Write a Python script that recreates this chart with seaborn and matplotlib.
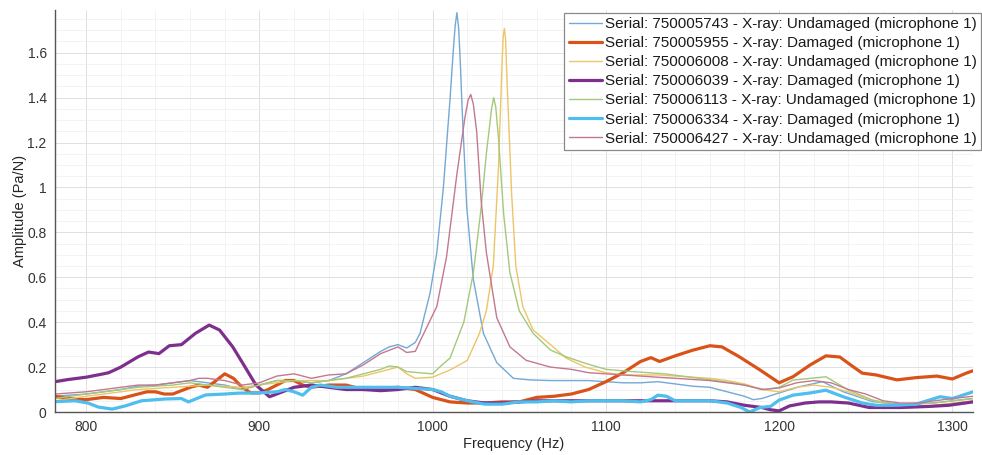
import numpy as np
import pandas as pd
import matplotlib
matplotlib.use("Agg")
import matplotlib.pyplot as plt
from matplotlib.ticker import MultipleLocator, FuncFormatter
import seaborn as sns

# ---------------- data ----------------
labels = [
    "Serial: 750005743 - X-ray: Undamaged (microphone 1)",
    "Serial: 750005955 - X-ray: Damaged (microphone 1)",
    "Serial: 750006008 - X-ray: Undamaged (microphone 1)",
    "Serial: 750006039 - X-ray: Damaged (microphone 1)",
    "Serial: 750006113 - X-ray: Undamaged (microphone 1)",
    "Serial: 750006334 - X-ray: Damaged (microphone 1)",
    "Serial: 750006427 - X-ray: Undamaged (microphone 1)",
]

f_5743 = [782, 790, 800, 810, 820, 830, 840, 850, 860, 870, 880, 890, 900, 910, 920, 930, 940, 950, 960, 970,
          975, 980, 985, 990, 992.7, 998.5, 1002.4, 1006.2, 1010, 1012, 1013, 1014, 1015, 1016, 1017, 1019.7,
          1023.5, 1029.3, 1037, 1046.6, 1056, 1068, 1080, 1090, 1100, 1110, 1120, 1130, 1140, 1150, 1160, 1170,
          1180, 1185, 1190, 1200, 1212, 1225, 1237, 1254, 1270, 1289, 1300, 1312]
a_5743 = [0.07, 0.075, 0.08, 0.09, 0.10, 0.115, 0.12, 0.13, 0.14, 0.13, 0.12, 0.10, 0.12, 0.14, 0.14, 0.13,
          0.14, 0.17, 0.22, 0.27, 0.29, 0.30, 0.285, 0.31, 0.35, 0.53, 0.71, 1.00, 1.39, 1.62, 1.72, 1.778,
          1.71, 1.55, 1.35, 0.91, 0.59, 0.35, 0.22, 0.15, 0.143, 0.14, 0.14, 0.14, 0.135, 0.13, 0.13, 0.135,
          0.125, 0.115, 0.11, 0.09, 0.07, 0.055, 0.06, 0.085, 0.113, 0.135, 0.09, 0.046, 0.035, 0.04, 0.05, 0.06]

f_5955 = [782, 790, 800, 810, 820, 830, 835, 840, 845, 850, 860, 865, 870, 875, 880, 885, 890, 895, 900, 905,
          910, 915, 920, 925, 930, 940, 950, 960, 970, 980, 990, 1000, 1010, 1020, 1030, 1040, 1050, 1060,
          1070, 1080, 1090, 1100, 1110, 1120, 1126, 1131, 1140, 1150, 1160, 1167, 1177, 1189, 1200, 1208,
          1218, 1227, 1235, 1243, 1248, 1256, 1268, 1279, 1291, 1300, 1308, 1312]
a_5955 = [0.07, 0.06, 0.055, 0.065, 0.06, 0.08, 0.09, 0.09, 0.08, 0.08, 0.11, 0.12, 0.11, 0.14, 0.17, 0.15,
          0.11, 0.085, 0.085, 0.10, 0.12, 0.14, 0.14, 0.12, 0.11, 0.12, 0.12, 0.10, 0.105, 0.11, 0.10, 0.065,
          0.045, 0.04, 0.04, 0.045, 0.045, 0.065, 0.07, 0.08, 0.10, 0.135, 0.175, 0.225, 0.242, 0.225, 0.25,
          0.275, 0.295, 0.29, 0.246, 0.187, 0.13, 0.157, 0.21, 0.25, 0.245, 0.20, 0.173, 0.165, 0.143, 0.153,
          0.16, 0.147, 0.173, 0.184]

f_6008 = [782, 800, 810, 820, 830, 840, 850, 860, 870, 880, 890, 900, 910, 920, 930, 940, 950, 960, 970, 980,
          985, 990, 1000, 1010, 1020, 1027, 1031, 1035, 1038, 1040, 1040.7, 1041.4, 1042.1, 1043, 1045.6, 1048,
          1052, 1058, 1068, 1077, 1088, 1100, 1110, 1120, 1130, 1140, 1150, 1160, 1170, 1180, 1190, 1200,
          1210, 1220, 1230, 1240, 1250, 1260, 1270, 1280, 1290, 1300, 1312]
a_6008 = [0.05, 0.07, 0.08, 0.09, 0.10, 0.105, 0.11, 0.115, 0.12, 0.115, 0.11, 0.12, 0.13, 0.14, 0.14, 0.14,
          0.15, 0.16, 0.18, 0.20, 0.17, 0.15, 0.155, 0.187, 0.23, 0.35, 0.45, 0.65, 1.09, 1.54, 1.67, 1.708,
          1.66, 1.46, 0.97, 0.65, 0.47, 0.365, 0.30, 0.24, 0.20, 0.175, 0.165, 0.165, 0.165, 0.16, 0.155, 0.15,
          0.14, 0.125, 0.10, 0.09, 0.11, 0.12, 0.11, 0.09, 0.06, 0.04, 0.02, 0.02, 0.03, 0.04, 0.05]

f_6039 = [782, 790, 800, 810, 813, 820, 830, 836, 842, 848, 855, 863, 871, 877, 884.6, 890.4, 898, 905.8,
          910, 915, 920, 930, 940, 950, 960, 970, 980, 990, 1000, 1010, 1020, 1030, 1040, 1050, 1060, 1080,
          1100, 1120, 1140, 1160, 1170, 1180, 1190, 1195, 1200, 1206, 1215, 1223, 1230, 1240, 1252, 1270,
          1287, 1298, 1312]
a_6039 = [0.135, 0.145, 0.155, 0.17, 0.175, 0.20, 0.246, 0.267, 0.26, 0.295, 0.30, 0.35, 0.387, 0.365, 0.29,
          0.217, 0.12, 0.068, 0.08, 0.095, 0.11, 0.12, 0.11, 0.10, 0.10, 0.095, 0.10, 0.11, 0.10, 0.07, 0.05,
          0.04, 0.04, 0.045, 0.05, 0.05, 0.05, 0.05, 0.05, 0.05, 0.045, 0.03, 0.02, 0.01, 0.005, 0.027, 0.04,
          0.045, 0.045, 0.04, 0.02, 0.02, 0.025, 0.03, 0.045]

f_6113 = [782, 800, 810, 820, 830, 840, 850, 860, 870, 880, 890, 900, 910, 920, 930, 940, 950, 960, 970, 975,
          980, 985, 992, 1000, 1004, 1010, 1018, 1023.5, 1028, 1031, 1034, 1035.2, 1036.4, 1038, 1041, 1044.6,
          1050, 1058, 1068, 1077, 1088, 1100, 1115, 1134, 1154, 1173, 1192, 1200, 1208, 1227, 1240, 1254,
          1270, 1289, 1312]
a_6113 = [0.06, 0.08, 0.09, 0.10, 0.11, 0.115, 0.12, 0.13, 0.12, 0.11, 0.10, 0.12, 0.14, 0.14, 0.13, 0.14,
          0.15, 0.17, 0.19, 0.205, 0.20, 0.18, 0.175, 0.17, 0.20, 0.24, 0.40, 0.62, 0.91, 1.15, 1.35, 1.40,
          1.36, 1.22, 0.88, 0.62, 0.45, 0.35, 0.276, 0.246, 0.217, 0.19, 0.18, 0.17, 0.15, 0.13, 0.10, 0.11,
          0.142, 0.157, 0.098, 0.053, 0.03, 0.04, 0.06]

f_6334 = [782, 793.5, 801, 807, 815, 822.5, 832, 845.6, 855, 859, 869, 880, 888, 900, 910, 915, 920, 925,
          930, 935, 945, 960, 980, 1000, 1005, 1010, 1020, 1030, 1040, 1050, 1060, 1070, 1080, 1090, 1100,
          1110, 1120, 1126, 1130, 1135, 1140, 1150, 1160, 1170, 1178, 1183, 1189, 1195, 1200, 1208, 1218,
          1227, 1237, 1248, 1256, 1268, 1279, 1293, 1300, 1312]
a_6334 = [0.046, 0.05, 0.04, 0.022, 0.013, 0.027, 0.05, 0.058, 0.06, 0.045, 0.076, 0.08, 0.084, 0.085, 0.09,
          0.10, 0.09, 0.075, 0.11, 0.12, 0.11, 0.11, 0.11, 0.10, 0.09, 0.07, 0.05, 0.035, 0.035, 0.045, 0.045,
          0.05, 0.045, 0.05, 0.05, 0.05, 0.045, 0.055, 0.075, 0.07, 0.05, 0.05, 0.05, 0.04, 0.02, 0.0, 0.02,
          0.025, 0.053, 0.075, 0.085, 0.097, 0.068, 0.04, 0.03, 0.03, 0.035, 0.068, 0.06, 0.09]

f_6427 = [782, 800, 810, 820, 830, 840, 850, 860, 865, 870, 880, 890, 900, 910, 920, 930, 940, 950, 960, 970,
          980, 985, 990, 993, 1002.4, 1008, 1014, 1018.6, 1020.5, 1022, 1023.5, 1025.4, 1028, 1031, 1037,
          1044.6, 1054, 1068, 1080, 1090, 1100, 1110, 1120, 1130, 1140, 1150, 1160, 1170, 1180, 1190, 1200,
          1210, 1220, 1230, 1240, 1250, 1260, 1270, 1280, 1290, 1300, 1312]
a_6427 = [0.08, 0.09, 0.10, 0.11, 0.12, 0.12, 0.13, 0.14, 0.15, 0.15, 0.14, 0.12, 0.13, 0.16, 0.17, 0.15,
          0.165, 0.17, 0.21, 0.26, 0.29, 0.265, 0.27, 0.32, 0.47, 0.69, 1.06, 1.31, 1.39, 1.414, 1.37, 1.25,
          0.94, 0.71, 0.42, 0.29, 0.23, 0.20, 0.19, 0.175, 0.17, 0.165, 0.16, 0.155, 0.15, 0.145, 0.14, 0.13,
          0.12, 0.10, 0.107, 0.13, 0.14, 0.13, 0.10, 0.08, 0.05, 0.04, 0.04, 0.05, 0.06, 0.07]

freqs = [f_5743, f_5955, f_6008, f_6039, f_6113, f_6334, f_6427]
amps = [a_5743, a_5955, a_6008, a_6039, a_6113, a_6334, a_6427]

colors = ["#72A9D6", "#D95319", "#EDC567", "#7E2F8E", "#A3C97A", "#4DBEEE", "#C4788E"]
widths = [1.0, 2.3, 1.0, 2.3, 1.0, 2.3, 1.0]

x_ticks = [800, 900, 1000, 1100, 1200, 1300]
y_ticks = [0, 0.2, 0.4, 0.6, 0.8, 1.0, 1.2, 1.4, 1.6]

# ---------------- plot ----------------
sns.set_style("white")
plt.rcParams["font.family"] = ["Liberation Sans", "DejaVu Sans"]

fig = plt.figure(figsize=(9.82, 4.55), dpi=100)
ax = fig.add_axes([0.056, 0.0945, 0.935, 0.8835])

for lab, f, a, c, w in zip(labels, freqs, amps, colors, widths):
    df = pd.DataFrame({"Frequency (Hz)": f, "Amplitude (Pa/N)": a})
    sns.lineplot(data=df, x="Frequency (Hz)", y="Amplitude (Pa/N)", ax=ax, color=c,
                 linewidth=w, label=lab, sort=False, estimator=None)

ax.set_xlim(782, 1312)
ax.set_ylim(0, 1.79)
ax.set_xticks(x_ticks)
ax.set_yticks(y_ticks)
ax.yaxis.set_major_formatter(FuncFormatter(lambda v, p: "%g" % round(v, 2)))
ax.xaxis.set_minor_locator(MultipleLocator(20))
ax.yaxis.set_minor_locator(MultipleLocator(0.05))
ax.grid(True, which="major", color="#e0e0e0", linewidth=0.7)
ax.grid(True, which="minor", color="#efefef", linewidth=0.5)
ax.set_axisbelow(True)

for s in ["top", "right"]:
    ax.spines[s].set_visible(False)
for s in ["left", "bottom"]:
    ax.spines[s].set_color("#555555")
    ax.spines[s].set_linewidth(1.0)

ax.tick_params(axis="both", which="major", direction="in", length=7, width=0.9,
               color="#555555", labelsize=10, labelcolor="#333333", pad=6)
ax.tick_params(axis="both", which="minor", length=0)

ax.set_xlabel("Frequency (Hz)", fontsize=10.5, color="#262626", labelpad=2)
ax.set_ylabel("Amplitude (Pa/N)", fontsize=10.5, color="#262626", labelpad=0)

leg = ax.legend(loc="upper right", bbox_to_anchor=(0.999, 0.972), bbox_transform=fig.transFigure,
                fontsize=11, frameon=True, fancybox=False, framealpha=1.0, edgecolor="#8a8a8a",
                labelspacing=0.33, handlelength=2.2, handletextpad=0.15, borderpad=0.3,
                borderaxespad=0.0)
leg.get_frame().set_linewidth(0.9)
for t in leg.get_texts():
    t.set_color("#1a1a1a")

fig.savefig("out.png", dpi=100)
